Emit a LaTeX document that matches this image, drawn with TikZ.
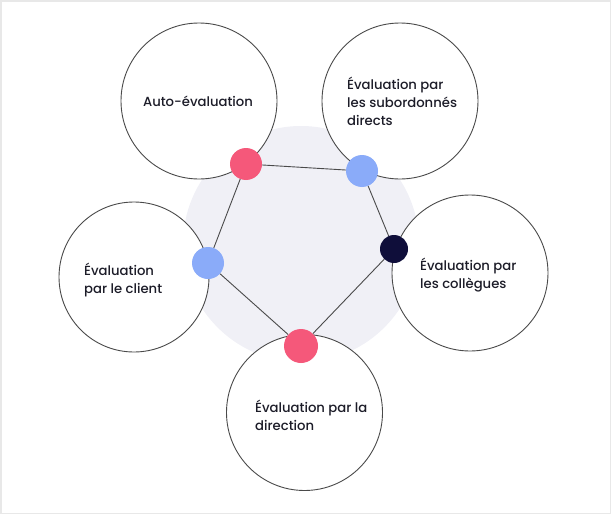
\documentclass[tikz,border=0pt]{standalone}
\usepackage{fontspec}
\setmainfont{Poppins Medium}
\usepackage{xcolor}
\usepackage{tikz}

\definecolor{discgray}{HTML}{F0F0F6}
\definecolor{dotred}{HTML}{F5587A}
\definecolor{dotblue}{HTML}{8AABF9}
\definecolor{dotnavy}{HTML}{0F0E3A}
\definecolor{rimgray}{HTML}{4A4A4A}
\definecolor{inkblack}{HTML}{1C1C28}

\tikzset{
  bubble/.style={circle, draw=rimgray, fill=white, line width=0.9pt, minimum size=156pt, inner sep=0pt},
  dot/.style={circle, fill=#1, minimum size=32pt, inner sep=0pt},
  bubbletext/.style={anchor=west, align=left, inner sep=0pt, text=inkblack, font=\fontsize{13.2}{17.7}\selectfont},
  link/.style={draw=rimgray, line width=0.9pt}
}

\begin{document}
\begin{tikzpicture}[x=1pt, y=-1pt]
\useasboundingbox (0,0) rectangle (611,514);
\draw [black!9, line width=1.5pt] (0.75,0.75) rectangle (610.25,513.25);
\fill [discgray] (301,244) circle [radius=118];

\node [bubble] (auto) at (199,101) {};
\node [bubble] (subord) at (400,101) {};
\node [bubble] (colleg) at (470,273) {};
\node [bubble, minimum size=150pt] (client) at (134,277) {};
\node [bubble] (direct) at (304.5,412.5) {};

\node [bubbletext, anchor=base] (autotxt) at (198,106.7) {Auto-évaluation};
\node [bubbletext] (subordtxt) at (347,101.5) {Évaluation par\\les subordonnés\\directs};
\node [bubbletext] (collegtxt) at (420,275) {Évaluation par\\les collègues};
\node [bubbletext] (clienttxt) at (84,280) {Évaluation\\par le client};
\node [bubbletext] (directtxt) at (255,415) {Évaluation par la\\direction};

\node [dot=dotred] (ra) at (246,164) {};
\node [dot=dotblue] (bb) at (362,171) {};
\node [dot=dotnavy, minimum size=28pt] (nc) at (394,249) {};
\node [dot=dotred, minimum size=34pt] (rd) at (301,346) {};
\node [dot=dotblue] (be) at (208,263) {};
\draw [link] (ra) -- (bb) -- (nc) -- (rd) -- (be) -- (ra);
\end{tikzpicture}
\end{document}
